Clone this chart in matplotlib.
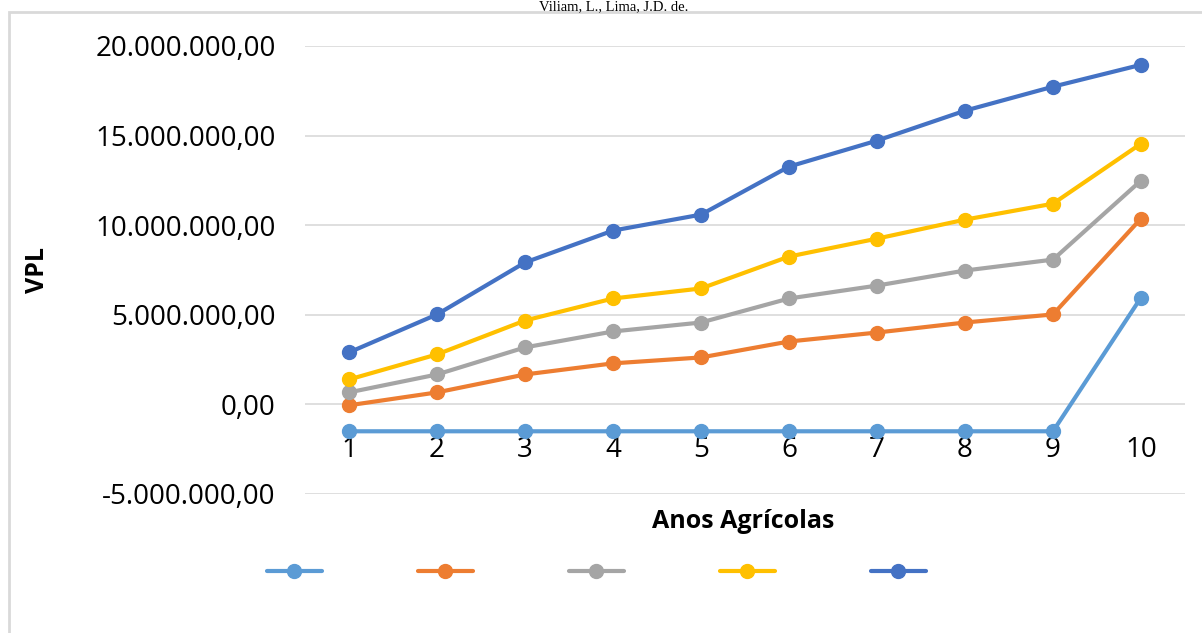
import matplotlib
matplotlib.use("Agg")
import matplotlib.pyplot as plt
from matplotlib.patches import Rectangle
from matplotlib.ticker import FuncFormatter

# Anos agricolas e VPL de cada cenario
anos = [1, 2, 3, 4, 5, 6, 7, 8, 9, 10]
serie1 = [-1.50e6, -1.50e6, -1.50e6, -1.50e6, -1.50e6, -1.50e6, -1.50e6, -1.50e6, -1.50e6, 5.96e6]
serie2 = [-0.05e6, 0.67e6, 1.67e6, 2.29e6, 2.62e6, 3.51e6, 4.01e6, 4.57e6, 5.02e6, 10.37e6]
serie3 = [0.67e6, 1.67e6, 3.18e6, 4.07e6, 4.57e6, 5.91e6, 6.63e6, 7.47e6, 8.08e6, 12.49e6]
serie4 = [1.39e6, 2.79e6, 4.68e6, 5.91e6, 6.47e6, 8.25e6, 9.25e6, 10.31e6, 11.20e6, 14.55e6]
serie5 = [2.90e6, 5.02e6, 7.92e6, 9.70e6, 10.59e6, 13.27e6, 14.72e6, 16.39e6, 17.73e6, 18.95e6]
series = [serie1, serie2, serie3, serie4, serie5]
cores = ["#5B9BD5", "#ED7D31", "#A5A5A5", "#FFC000", "#4472C4"]
yticks = [-5e6, 0, 5e6, 10e6, 15e6, 20e6]


def fmt_br(v, pos=None):
    """
    Formata numero no padrao brasileiro: 20.000.000,00
    """
    s = "{:,.2f}".format(v)
    return s.replace(",", "X").replace(".", ",").replace("X", ".")


plt.rcParams["font.family"] = ["Open Sans", "DejaVu Sans"]

W, H = 1202, 633
fig = plt.figure(figsize=(W / 100, H / 100), dpi=100)

# moldura e texto de cabecalho
fig.patches.append(Rectangle((9 / W, -0.1), 1.2, 1.1 - 12 / H, transform=fig.transFigure,
                             fill=False, edgecolor="#d9d9d9", linewidth=2))
fig.text(614 / W, 1 - 10 / H, "Viliam, L., Lima, J.D. de.", ha="center", va="baseline",
         family="Liberation Serif", fontsize=10.5)

ax = fig.add_axes([305 / W, (H - 494) / H, 880 / W, 448 / H])
lines = []
for s, c in zip(series, cores):
    l, = ax.plot(anos, s, color=c, linewidth=3, marker="o", markersize=10,
                 solid_capstyle="round")
    lines.append(l)

ax.set_xlim(0.5, 10.5)
ax.set_ylim(-5e6, 20e6)
ax.set_yticks(yticks)
ax.yaxis.set_major_formatter(FuncFormatter(fmt_br))
ax.set_xticks(anos)
ax.grid(axis="y", color="#d9d9d9", linewidth=1.2)
ax.set_axisbelow(True)
for sp in ax.spines.values():
    sp.set_visible(False)
ax.spines["bottom"].set_position(("data", 0))
ax.tick_params(axis="y", length=0, pad=21, labelsize=20)
ax.tick_params(axis="x", length=0, pad=23, labelsize=20)

fig.text(38 / W, 1 - 270 / H, "VPL", rotation=90, ha="center", va="center",
         fontsize=18, fontweight="bold")
fig.text(743 / W, 1 - 521 / H, "Anos Agrícolas", ha="center", va="center",
         fontsize=18, fontweight="bold")

fig.legend(lines, [" "] * 5, loc="center", bbox_to_anchor=(605 / W, 1 - 573 / H),
           ncol=5, frameon=False, fontsize=12, handlelength=3.3, handletextpad=0.8,
           columnspacing=4.7)

fig.savefig("out.png", dpi=100)
